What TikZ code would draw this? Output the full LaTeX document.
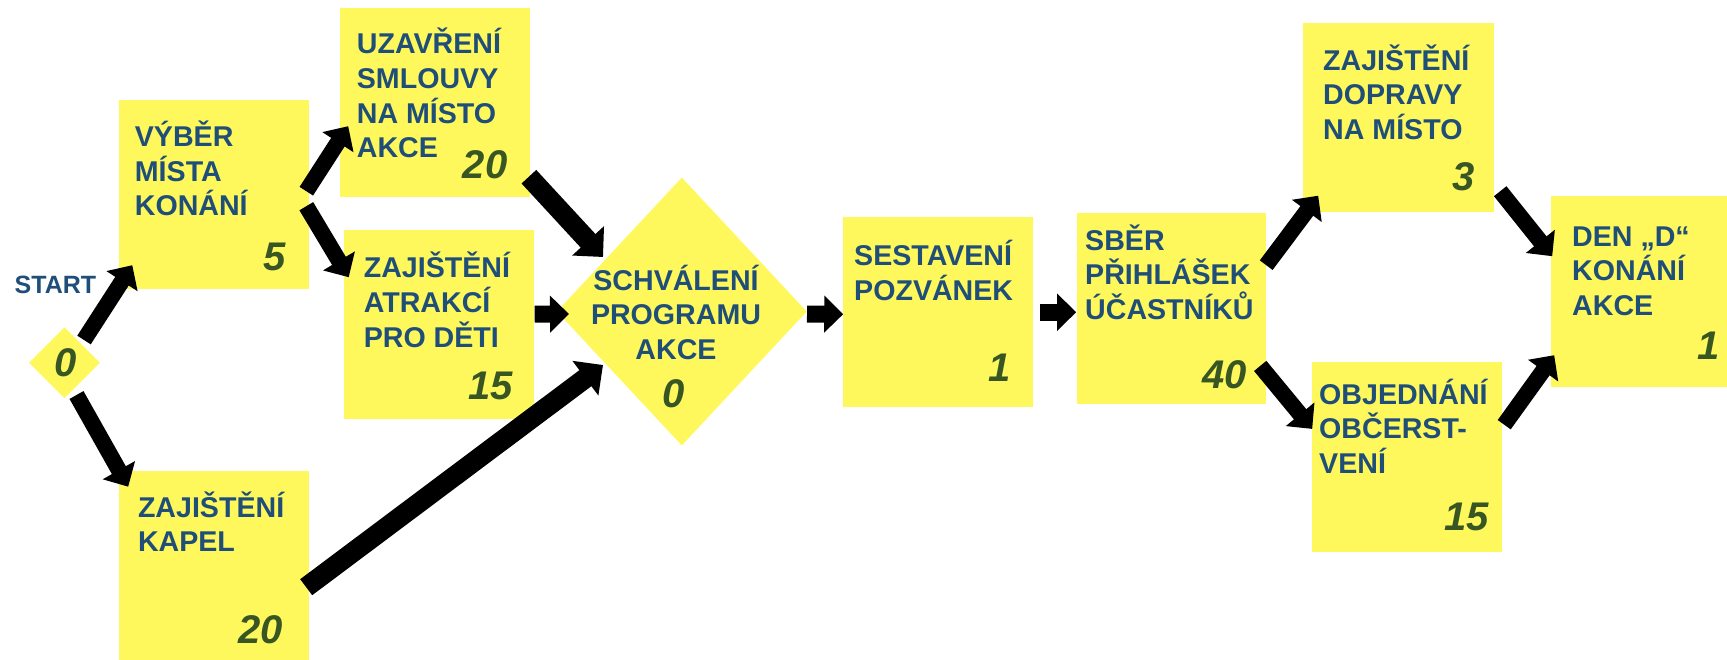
\documentclass[tikz,border=0pt]{standalone}
\usepackage{fontspec}
\setmainfont{Liberation Sans}
\usetikzlibrary{arrows.meta,shapes.geometric,calc}
\definecolor{boxy}{RGB}{255,248,92}
\definecolor{txtblue}{RGB}{31,78,121}
\definecolor{numgreen}{RGB}{55,86,35}
\newcommand\mlines[1]{\vtop{\baselineskip=34.8pt\lineskiplimit=-100pt\lineskip=0pt\halign{##\hfil\cr#1\crcr}}}
\newcommand\clines[1]{\vtop{\baselineskip=34.8pt\lineskiplimit=-100pt\lineskip=0pt\halign{\hfil##\hfil\cr#1\crcr}}}
\begin{document}
\begin{tikzpicture}[x=1pt,y=-1pt,
  box/.style={fill=boxy,draw=none,inner sep=0pt,anchor=north west,minimum width=190pt,minimum height=189pt},
  dia/.style={diamond,fill=boxy,draw=none,inner sep=0pt},
  lbl/.style={inner sep=0pt,anchor=base west,text=txtblue,font=\fontsize{28.6}{34.8}\selectfont\bfseries},
  clbl/.style={lbl,anchor=base},
  startlbl/.style={inner sep=0pt,anchor=base west,text=txtblue,font=\fontsize{25}{25}\selectfont\bfseries},
  num/.style={inner sep=0pt,anchor=base east,text=numgreen,font=\fontsize{40}{40}\selectfont\bfseries\itshape},
  cnum/.style={num,anchor=base},
  arr/.style={line width=16pt,-{Triangle[width=36pt,length=19pt]}},
  arrthick/.style={line width=20pt,-{Triangle[width=42pt,length=22pt]}}]
\useasboundingbox (0,0) rectangle (1727,659);

% boxes
\node[box] (vyb) at (118.6,100) {};
\node[box] (uza) at (340,7.6) {};
\node[box] (atr) at (344,229.5) {};
\node[box,minimum height=192pt] (kap) at (118.6,471) {};
\node[box,minimum height=190.5pt] (ses) at (843,216.5) {};
\node[box,minimum width=189pt,minimum height=190.5pt] (sbe) at (1077,213) {};
\node[box,minimum width=191pt] (dop) at (1303,23) {};
\node[box,minimum height=190pt] (obj) at (1312,362) {};
\node[box,minimum height=191pt] (den) at (1551,196) {};
\node[dia,minimum width=71pt,minimum height=71pt] (d0) at (64.5,362.7) {};
\node[dia,minimum width=250pt,minimum height=268pt] (schv) at (681.8,311.5) {};

% texts
\node[startlbl] (tstart) at (14.5,293) {START};
\node[cnum] (n0) at (66,376) {0};
\node[lbl] (tvyb) at (134.7,146.3) {\mlines{VÝBĚR\cr MÍSTA\cr KONÁNÍ}};
\node[num] (nvyb) at (286,270) {5};
\node[lbl] (tuza) at (356.7,53.4) {\mlines{UZAVŘENÍ\cr SMLOUVY\cr NA MÍSTO\cr AKCE}};
\node[num] (nuza) at (507.5,178.6) {20};
\node[lbl] (tatr) at (363.6,277.4) {\mlines{ZAJIŠTĚNÍ\cr ATRAKCÍ\cr PRO DĚTI}};
\node[num] (natr) at (513,399.3) {15};
\node[lbl] (tkap) at (137.8,517) {\mlines{ZAJIŠTĚNÍ\cr KAPEL}};
\node[num] (nkap) at (283,643) {20};
\node[clbl] (tschv) at (676,290) {\clines{SCHVÁLENÍ\cr PROGRAMU\cr AKCE}};
\node[cnum] (nschv) at (674,407.7) {0};
\node[lbl] (tses) at (854,265.7) {\mlines{SESTAVENÍ\cr POZVÁNEK}};
\node[num] (nses) at (1011,381.7) {1};
\node[lbl] (tsbe) at (1085,250) {\mlines{SBĚR\cr PŘIHLÁŠEK\cr ÚČASTNÍKŮ}};
\node[num] (nsbe) at (1247,388.8) {40};
\node[lbl] (tdop) at (1323,70) {\mlines{ZAJIŠTĚNÍ\cr DOPRAVY\cr NA MÍSTO}};
\node[num] (ndop) at (1475,190) {3};
\node[lbl] (tden) at (1572,246) {\mlines{DEN „D“\cr KONÁNÍ\cr AKCE}};
\node[num] (nden) at (1720,359.4) {1};
\node[lbl] (tobj) at (1319,404) {\mlines{OBJEDNÁNÍ\cr OBČERST-\cr VENÍ}};
\node[num] (nobj) at (1489,530.5) {15};

% arrows
\draw[arr] ($(d0.center)+(19.5,-22.7)$) -- ($(vyb.center)+(-81.5,70.5)$);
\draw[arr] ($(d0.center)+(12,32.3)$) -- ($(kap.center)+(-85.6,-80.5)$);
\draw[arr] ($(vyb.center)+(92.5,-3.5)$) -- ($(uza.center)+(-87,23.9)$);
\draw[arr] ($(vyb.center)+(92.5,11.5)$) -- ($(atr.center)+(-90.5,-47)$);
\draw[arrthick] ($(uza.center)+(93.7,74.4)$) -- ($(schv.center)+(-78.8,-54.5)$);
\draw[arr,line width=17pt] ($(atr.center)+(95.5,-10)$) -- ($(schv.center)+(-112.8,2.5)$);
\draw[arrthick] ($(kap.center)+(92.4,20)$) -- ($(schv.center)+(-78.8,53.5)$);
\draw[arr,line width=17pt] ($(schv.center)+(125.2,2.5)$) -- ($(ses.center)+(-95,2.25)$);
\draw[arr,line width=17pt] ($(ses.center)+(101.6,0.25)$) -- ($(sbe.center)+(-95.5,3.75)$);
\draw[arr] ($(sbe.center)+(94.5,-43.25)$) -- ($(dop.center)+(-80.5,78)$);
\draw[arr] ($(sbe.center)+(88.5,57.45)$) -- ($(obj.center)+(-95,-28.3)$);
\draw[arr] ($(dop.center)+(101.5,73.5)$) -- ($(den.center)+(-94,-35.5)$);
\draw[arr] ($(obj.center)+(97,-32.5)$) -- ($(den.center)+(-92,63.5)$);
\end{tikzpicture}
\end{document}
